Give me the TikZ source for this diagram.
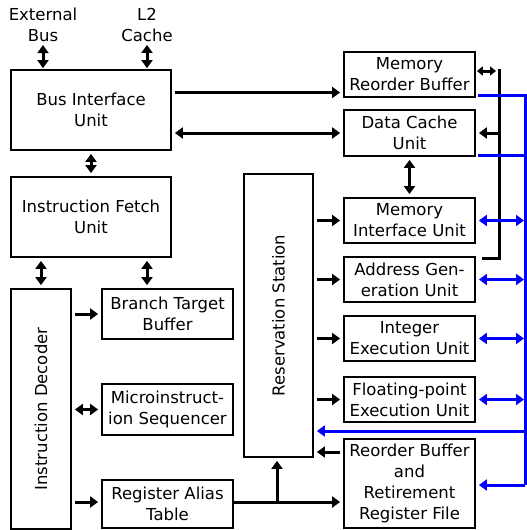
\documentclass[tikz,border=0pt]{standalone}
\usepackage{fontspec}
\setmainfont{DejaVu Sans}
\usepackage{xcolor}
\usepackage{tikz}
\usetikzlibrary{positioning,calc,arrows.meta}

\begin{document}
\begin{tikzpicture}[
    x=1pt, y=-1pt,
    unit/.style={rectangle, draw, line width=1.8pt, align=center, inner sep=0pt,
                 minimum width=131pt, minimum height=45pt,
                 font=\fontsize{16.5}{21}\selectfont},
    label/.style={align=center, inner sep=0pt, font=\fontsize{16.5}{21}\selectfont},
    arrow/.style={-{Triangle[length=8pt,width=11pt]}, line width=3pt, shorten >=3pt, shorten <=3pt},
    twoway/.style={{Triangle[length=8pt,width=11pt]}-{Triangle[length=8pt,width=11pt]}, line width=3pt, shorten >=3pt, shorten <=3pt},
    bus/.style={line width=3pt},
    bluebus/.style={draw=blue, line width=3pt},
    bluearrow/.style={draw=blue, fill=blue, line width=3pt, -{Triangle[length=8pt,width=11pt]}, shorten >=3pt},
    bluetwoway/.style={draw=blue, fill=blue, line width=3pt, {Triangle[length=8pt,width=11pt]}-{Triangle[length=8pt,width=11pt]}, shorten >=3pt, shorten <=1pt}
]
    \useasboundingbox (0,0) rectangle (527,530);

    % outside connections
    \node[label] (ext) at (43,25) {External\\Bus};
    \node[label] (l2) at (147,25) {L2\\Cache};

    % front end
    \node[unit, minimum width=160pt, minimum height=80pt] (biu) at (91,110) {Bus Interface\\Unit};
    \node[unit, minimum width=160pt, minimum height=80pt] (ifu) at (91,217) {Instruction Fetch\\Unit};
    \node[unit, minimum width=60pt, minimum height=240pt] (dec) at (41,409)
        {\rotatebox{90}{Instruction Decoder}};
    \node[unit, minimum height=50pt] (btb) at (167.5,314) {Branch Target\\Buffer};
    \node[unit, minimum height=51pt] (mis) at (167.5,409.5) {Microinstruct-\\ion Sequencer};
    \node[unit, minimum height=48pt] (rat) at (167.5,504) {Register Alias\\Table};
    \node[unit, minimum width=69pt, minimum height=283pt] (rs) at (278.5,315.5)
        {\rotatebox{90}{Reservation Station}};

    % back end
    \node[unit] (mrb) at (409.5,74.5) {Memory\\Reorder Buffer};
    \node[unit, minimum height=46pt] (dcu) at (409.5,133) {Data Cache\\Unit};
    \node[unit] (miu) at (409.5,220.5) {Memory\\Interface Unit};
    \node[unit] (agu) at (409.5,279.5) {Address Gen-\\eration Unit};
    \node[unit] (ieu) at (409.5,338.5) {Integer\\Execution Unit};
    \node[unit] (fpu) at (409.5,399.5) {Floating-point\\Execution Unit};
    \node[unit, minimum height=89pt] (rrf) at (409.5,483.5) {Reorder Buffer\\and\\Retirement\\Register File};

    % helper points
    \coordinate (m1) at ([yshift=-18pt]mrb.west);
    \coordinate (bustop) at (499,69);
    \coordinate (busbot) at (499,258);
    \coordinate (bluetop) at (525,95);
    \coordinate (bluebot) at (525,485);
    \coordinate (r1) at ([yshift=31.5pt]rrf.west);
    \coordinate (rat1) at ([yshift=2pt]rat.east);
    \coordinate (split) at (277,502);

    \draw[twoway, shorten >=1pt] (ext.south) -- (ext.south |- biu.north);
    \draw[twoway, shorten >=1pt] (l2.south) -- (l2.south |- biu.north);
    \draw[twoway] (biu) -- (ifu);
    \draw[twoway] (ifu.south -| dec) -- (dec.north);
    \draw[twoway] (ifu.south -| l2) -- (btb.north -| l2);
    \draw[arrow] (biu.east |- m1) -- (m1);
    \draw[twoway] (biu.east |- dcu) -- (dcu.west);
    \draw[twoway] (dcu) -- (miu);

    \draw[arrow] (dec.east |- btb) -- (btb.west);
    \draw[twoway] (dec.east |- mis) -- (mis.west);
    \draw[arrow] (dec.east |- rat1) -- (rat.west |- rat1);

    \foreach \u in {miu, agu, ieu, fpu}
        \draw[arrow] (rs.east |- \u) -- (\u.west);
    \draw[arrow] (r1) -- (rs.east |- r1);
    \draw[bus] (rat1) -- (split);
    \draw[arrow, shorten <=0pt] (split) -- (rrf.west |- split);
    \draw[arrow, shorten <=0pt] (split) -- (rs.south -| split);

    % memory bus
    \draw[bus] (bustop) -- (busbot) -- ([xshift=6pt]agu.north east |- busbot);
    \draw[twoway, shorten >=1pt, {Triangle[length=6pt,width=9pt]}-{Triangle[length=6pt,width=9pt]}]
        ([yshift=-2pt]bustop) -- (mrb.east |- 0,71);
    \draw[arrow, shorten <=0pt] (bustop |- dcu) -- (dcu.east);

    % result bus
    \draw[bluebus] ([xshift=2pt]mrb.east |- bluetop) -- (bluetop) -- (bluebot);
    \draw[bluebus] ([shift={(2pt,1pt)}]dcu.south east) -- ([yshift=1pt]dcu.south east -| bluetop);
    \foreach \u in {miu, agu, ieu, fpu}
        \draw[bluetwoway] (bluetop |- \u) -- (\u.east);
    \draw[bluearrow] (bluetop |- 0,431) -- (rs.east |- 0,431);
    \draw[bluearrow] (bluebot) -- (rrf.east |- bluebot);
\end{tikzpicture}
\end{document}
